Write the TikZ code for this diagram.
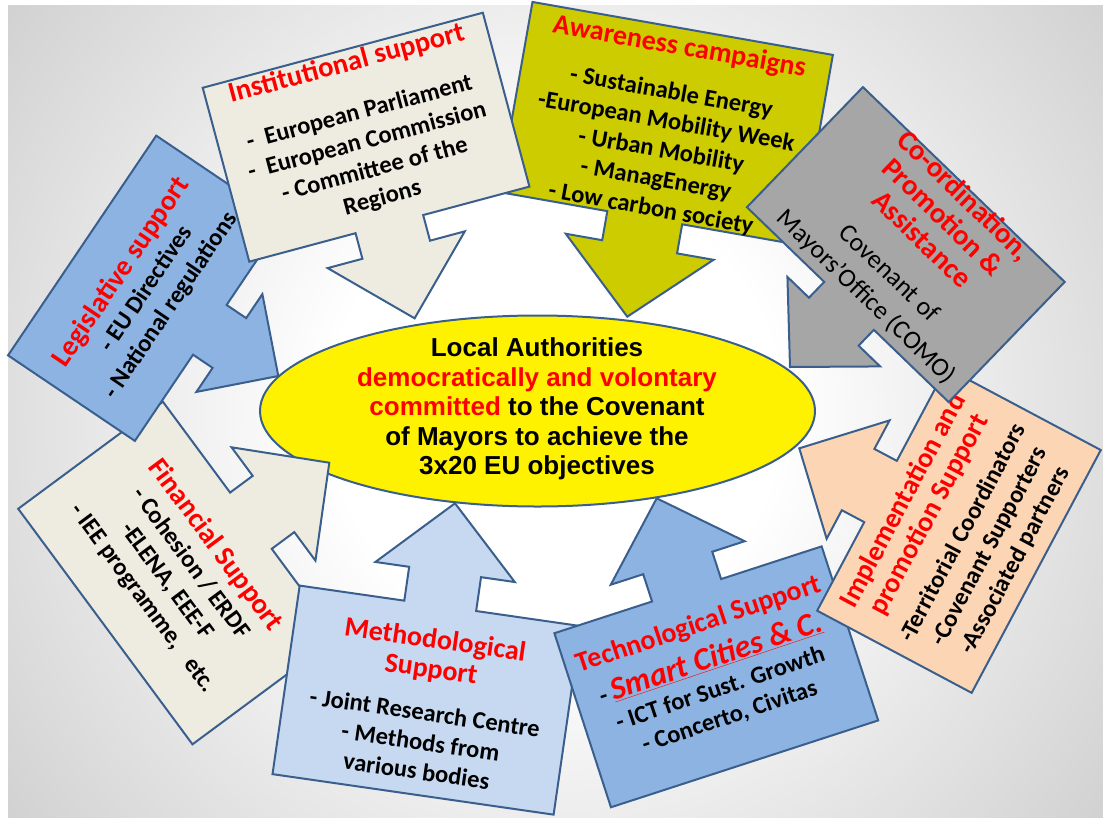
\documentclass[tikz,border=0pt]{standalone}
\usepackage{fontspec}
\setmainfont{Carlito}
\newfontfamily\arialf{Liberation Sans}
\usetikzlibrary{shapes.geometric}
\definecolor{edgeblue}{HTML}{3A5F8C}
\definecolor{beige}{HTML}{EEECE1}
\definecolor{blueA}{HTML}{8DB3E2}
\definecolor{blueB}{HTML}{C6D9F1}
\definecolor{olive}{HTML}{CCCC00}
\definecolor{greyC}{HTML}{A6A6A6}
\definecolor{peach}{HTML}{FCD5B5}
\definecolor{bggray}{HTML}{959595}
\pgfdeclareradialshading{bgshade}{\pgfpoint{0bp}{0bp}}{color(0bp)=(white); color(8bp)=(white); color(46bp)=(bggray); color(50bp)=(bggray)}
\tikzset{
  callout/.style={draw=edgeblue, line width=2pt, line join=miter},
  btext/.style={align=center, font=\bfseries\fontsize{24.5}{29.5}\selectfont, inner sep=0pt},
}
\newcommand{\ttl}[2]{{\color{red}\fontsize{#1}{#1}\selectfont #2}}
% fill, L, H, s, h, D, a, b
\newcommand{\calloutshape}[8]{\filldraw[callout, fill=#1] (-#2-#6,#7) -- (-#2,#7) -- (-#2,-#4) -- (-#3,-#4) -- (-#3,-#5) -- (0,0) -- (-#3,#5) -- (-#3,#4) -- (-#2,#4) -- (-#2,#8) -- (-#2-#6,#8) -- cycle;}
\begin{document}
\begin{tikzpicture}[x=1pt,y=-1pt]
\useasboundingbox (0,0) rectangle (1103,817);
\begin{scope}
\clip (8,5) rectangle (1103,817);
\shade[shading=bgshade] (555-700,411-700) rectangle (555+700,411+700);
\end{scope}
\filldraw[fill=yellow, draw=edgeblue, line width=2pt] (537.5,411) ellipse [x radius=277.5pt, y radius=95.5pt];
\node[font=\arialf\bfseries\fontsize{26}{29.5}\selectfont, align=center, inner sep=0pt] (la) at (537,409)
 {Local Authorities\\ \textcolor{red}{democratically and volontary}\\ \textcolor{red}{committed} to the Covenant\\ of Mayors to achieve the\\ 3x20 EU objectives};

% Financial
\begin{scope}[shift={(329.3pt,-462.7pt)},rotate=36.5,x=1pt,y=1pt]
\calloutshape{beige}{97.5}{69.4}{35}{70.5}{180}{-145}{148}
\node[btext, rotate=-53.5] (fin) at (-185,1.5)
 {\ttl{28.5}{Financial Support}\\ - Cohesion / ERDF\\ -ELENA, EEE-F\\ - IEE programme,\ \ \ etc.};
\end{scope}

% Legislative
\begin{scope}[shift={(278.3pt,-376pt)},rotate=-34,x=1pt,y=1pt]
\calloutshape{blueA}{82.6}{59}{30}{59}{153}{-134}{131}
\node[btext, rotate=56] (leg) at (-159,-1.5)
 {\ttl{28.5}{Legislative support}\\ - EU Directives\\ - National regulations};
\end{scope}

% Methodological
\begin{scope}[shift={(455pt,-503.3pt)},rotate=81.8,x=1pt,y=1pt]
\calloutshape{blueB}{103.6}{69.4}{36.3}{70.4}{190.5}{-142}{142}
\node[btext, rotate=-8.2] (met) at (-203,0)
 {\ttl{28}{Methodological}\\ \ttl{28}{Support}\\[14pt] - Joint Research Centre\\ - Methods from\\ various bodies};
\end{scope}

% Technological
\begin{scope}[shift={(656.7pt,-498.3pt)},rotate=108,x=1pt,y=1pt]
\calloutshape{blueA}{96.7}{68}{36.3}{70.4}{183}{-142}{139}
\node[btext, rotate=18.5] (tec) at (-181,-1.5)
 {\ttl{28}{Technological Support}\\[8pt] - {\color{red}\fontsize{32}{34}\selectfont\itshape\underline{Smart Cities \& C.}}\\ - ICT for Sust. Growth\\ - Concerto, Civitas};
\end{scope}

% Implementation
\begin{scope}[shift={(799.3pt,-448.3pt)},rotate=152,x=1pt,y=1pt]
\calloutshape{peach}{92}{66.6}{34.7}{67}{175}{-140}{135}
\node[btext, rotate=62] (imp) at (-179.5,-2.5)
 {\ttl{28}{Implementation and}\\ \ttl{28}{promotion Support}\\[8pt] -Territorial Coordinators\\ -Covenant Supporters\\ -Associated partners};
\end{scope}

% Awareness
\begin{scope}[shift={(627.3pt,-316.7pt)},rotate=-100,x=1pt,y=1pt]
\calloutshape{olive}{100.5}{71}{38}{75}{193}{-148}{157}
\node[btext, rotate=-10] (awa) at (-193,4.5)
 {\ttl{28}{Awareness campaigns}\\[16pt] - Sustainable Energy\\ -European Mobility Week\\ - Urban Mobility\\ - ManagEnergy\\ - Low carbon society};
\end{scope}

% Institutional
\begin{scope}[shift={(414.6pt,-318.3pt)},rotate=-75,x=1pt,y=1pt]
\calloutshape{beige}{97.5}{71}{35}{71}{180}{-145}{145}
\node[btext, rotate=15] (ins) at (-194.5,0)
 {\ttl{28.5}{Institutional support}\\[20pt] -\ \ European Parliament\\ -\ \ European Commission\\ - Committee of the\\ Regions};
\end{scope}

% Coordination
\begin{scope}[shift={(790pt,-367pt)},rotate=-134,x=1pt,y=1pt]
\calloutshape{greyC}{85}{63}{34.5}{64.4}{167}{-142}{138.5}
\node[btext, rotate=-44] (coo) at (-173.5,6.25)
 {\ttl{29}{Co-ordination,}\\[1pt] \ttl{29}{Promotion \&}\\[1pt] \ttl{29}{Assistance}\\[16pt] {\mdseries\fontsize{26}{30}\selectfont Covenant of}\\[3.5pt] {\mdseries\fontsize{26}{30}\selectfont Mayors’Office (COMO)}};
\end{scope}
\end{tikzpicture}
\end{document}
